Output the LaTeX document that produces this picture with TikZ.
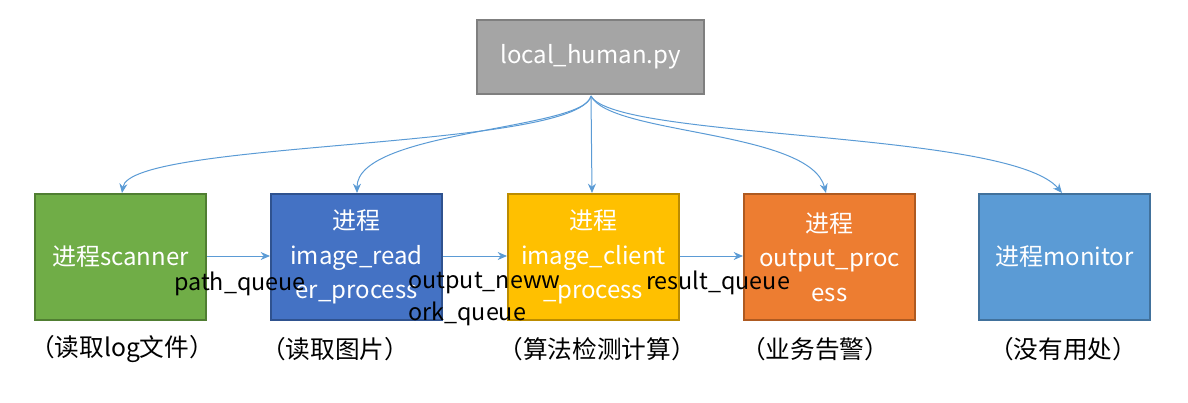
\documentclass[tikz,border=0pt]{standalone}
\usepackage{fontspec}
\setmainfont{Noto Sans CJK SC}
\usetikzlibrary{arrows.meta}
\definecolor{gfill}{HTML}{A5A5A5}\definecolor{gdraw}{HTML}{7F7F7F}
\definecolor{c1fill}{HTML}{70AD47}\definecolor{c1draw}{HTML}{507E32}
\definecolor{c2fill}{HTML}{4472C4}\definecolor{c2draw}{HTML}{2F528F}
\definecolor{c3fill}{HTML}{FFC000}\definecolor{c3draw}{HTML}{BC8C00}
\definecolor{c4fill}{HTML}{ED7D31}\definecolor{c4draw}{HTML}{AE5A21}
\definecolor{c5fill}{HTML}{5B9BD5}\definecolor{c5draw}{HTML}{41719C}
\definecolor{arr}{HTML}{5B9BD5}
\begin{document}
\begin{tikzpicture}[x=0.75pt,y=-0.75pt,
  proc/.style={draw=#1draw,fill=#1fill,line width=1.5pt,minimum width=171*0.75pt,minimum height=126*0.75pt,
    text=white,font=\fontsize{18pt}{26pt}\selectfont,align=center,inner sep=0pt,anchor=north west},
  conn/.style={draw=arr,line width=0.75pt,-{Stealth[length=7pt,width=6pt]}},
  qlabel/.style={font=\fontsize{17.5pt}{24pt}\selectfont,text=black,inner sep=0pt},
  note/.style={font=\fontsize{18.5pt}{20pt}\selectfont,text=black,inner sep=0pt}]
\useasboundingbox (0,0) rectangle (1188,403);
\node[draw=gdraw,fill=gfill,line width=1.5pt,minimum width=227*0.75pt,minimum height=74*0.75pt,text=white,
  font=\fontsize{18pt}{20pt}\selectfont,inner sep=0pt] (T) at (590.5,57) {local\_human.py};
\node[proc=c1] (a) at (34,193) {进程scanner};
\node[proc=c2] (b) at (270,193) {进程\\image\_read\\er\_process};
\node[proc=c3] (c) at (507,193) {进程\\image\_client\\\_process};
\node[proc=c4] (d) at (743,193) {进程\\output\_proc\\ess};
\node[proc=c5] (e) at (978,193) {进程monitor};
\coordinate (s) at (591,96);
\draw[conn] (s) .. controls (575,150) and (130,140) .. (a.north-|122,0);
\draw[conn] (s) .. controls (585,130) and (357,130) .. (b.north-|357,0);
\draw[conn] (s) -- (c.north-|592,0);
\draw[conn] (s) .. controls (610,135) and (810,130) .. (d.north-|826,0);
\draw[conn] (s) .. controls (615,140) and (1010,130) .. (e.north-|1062,0);
\draw[conn] (a.east|-0,256) -- (b.west|-0,256);
\draw[conn] (b.east|-0,256) -- (c.west|-0,256);
\draw[conn] (c.east|-0,256) -- (d.west|-0,256);
\node[qlabel] (q1) at (240,284) {path\_queue};
\node[qlabel,align=left,anchor=west] (q2) at (408,299) {output\_neww\\ork\_queue};
\node[qlabel] (q3) at (718,283) {result\_queue};
\node[note] (n1) at (122,349) {（读取log文件）};
\node[note] (n2) at (335,349) {（读取图片）};
\node[note] (n3) at (597,349) {（算法检测计算）};
\node[note] (n4) at (815,349) {（业务告警）};
\node[note] (n5) at (1063,349) {（没有用处）};
\end{tikzpicture}
\end{document}
